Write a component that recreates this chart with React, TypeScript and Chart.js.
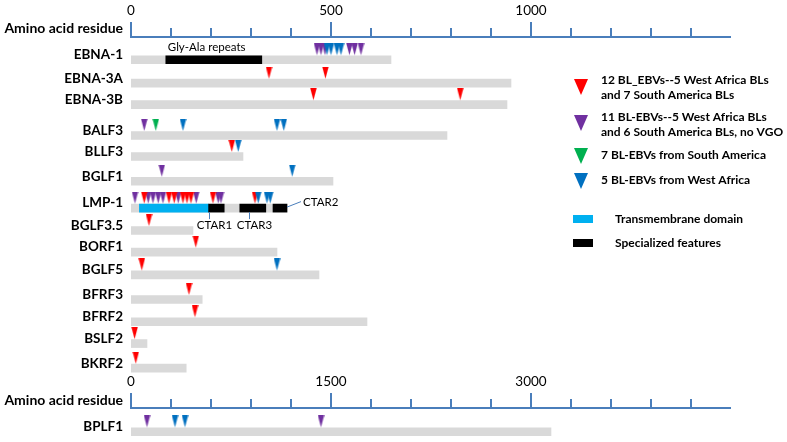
import React, { useEffect, useRef } from 'react';
import { Chart, registerables } from 'chart.js';

Chart.register(...registerables);

// ---------------- data ----------------
const genes = ['EBNA-1', 'EBNA-3A', 'EBNA-3B', 'BALF3', 'BLLF3', 'BGLF1', 'LMP-1', 'BGLF3.5', 'BORF1', 'BGLF5', 'BFRF3', 'BFRF2', 'BSLF2', 'BKRF2'];
const geneLengths = [650, 950, 940, 790, 280, 505, 390, 155, 365, 470, 178, 590, 40, 138];

const longGenes = ['BPLF1'];
const longGeneLengths = [3150];

const featureGenes = ['EBNA-1', 'LMP-1', 'LMP-1', 'LMP-1'];
const featureNames = ['Gly-Ala repeats', 'CTAR1', 'CTAR3', 'CTAR2'];
const featureStarts = [87, 194, 272, 355];
const featureEnds = [327, 233, 337, 390];

const tmGenes = ['LMP-1'];
const tmStarts = [21];
const tmEnds = [194];

const redSites: [string, number][] = [
  ['EBNA-3A', 345], ['EBNA-3A', 486],
  ['EBNA-3B', 456], ['EBNA-3B', 823],
  ['BLLF3', 252],
  ['LMP-1', 33], ['LMP-1', 95], ['LMP-1', 108], ['LMP-1', 130], ['LMP-1', 140], ['LMP-1', 150], ['LMP-1', 205], ['LMP-1', 310],
  ['BGLF3.5', 45], ['BORF1', 162], ['BGLF5', 27], ['BFRF3', 145], ['BFRF2', 160], ['BSLF2', 9], ['BKRF2', 12],
];
const purpleSites: [string, number][] = [
  ['EBNA-1', 465], ['EBNA-1', 475], ['EBNA-1', 485], ['EBNA-1', 546], ['EBNA-1', 559], ['EBNA-1', 575],
  ['BALF3', 33], ['BGLF1', 77],
  ['LMP-1', 10], ['LMP-1', 43], ['LMP-1', 55], ['LMP-1', 68], ['LMP-1', 80], ['LMP-1', 118], ['LMP-1', 163], ['LMP-1', 218], ['LMP-1', 225],
];
const greenSites: [string, number][] = [['BALF3', 62]];
const blueSites: [string, number][] = [
  ['EBNA-1', 490], ['EBNA-1', 500], ['EBNA-1', 515], ['EBNA-1', 525],
  ['BALF3', 130], ['BALF3', 365], ['BALF3', 382],
  ['BLLF3', 268], ['BGLF1', 403],
  ['LMP-1', 318], ['LMP-1', 340], ['LMP-1', 348],
  ['BGLF5', 365],
];
const longPurpleSites: [string, number][] = [['BPLF1', 120], ['BPLF1', 1425]];
const longBlueSites: [string, number][] = [['BPLF1', 330], ['BPLF1', 405]];

const topTicks = [0, 100, 200, 300, 400, 500, 600, 700, 800, 900, 1000, 1100, 1200, 1300, 1400];
const topTickLabels = [0, 500, 1000];
const topMax = 1500;
const bottomTicks = [0, 300, 600, 900, 1200, 1500, 1800, 2100, 2400, 2700, 3000, 3300, 3600, 3900, 4200];
const bottomTickLabels = [0, 1500, 3000];
const bottomMax = 4500;
const axisTitle = 'Amino acid residue';

const legendMarkers = [
  ['12 BL_EBVs--5 West Africa BLs', 'and 7 South America BLs'],
  ['11 BL-EBVs--5 West Africa BLs', 'and 6 South America BLs, no VGO'],
  ['7 BL-EBVs from South America'],
  ['5 BL-EBVs from West Africa'],
];
const legendBars = ['Transmembrane domain', 'Specialized features'];

// ---------------- layout / style ----------------
const ROW_POS: Record<string, number> = {
  'EBNA-1': 0, 'EBNA-3A': 1.0, 'EBNA-3B': 1.917, 'BALF3': 3.23, 'BLLF3': 4.125, 'BGLF1': 5.18,
  'LMP-1': 6.325, 'BGLF3.5': 7.28, 'BORF1': 8.2, 'BGLF5': 9.175, 'BFRF3': 10.22, 'BFRF2': 11.17,
  'BSLF2': 12.1, 'BKRF2': 13.15, 'BPLF1': 15.86,
};
const TOP_AXIS_ROW = -0.99;
const BOTTOM_AXIS_ROW = 14.85;
const TOP_TITLE_ROW = -1.1;
const BOTTOM_TITLE_ROW = 14.75;
const Y_MIN = -2.3333;
const Y_MAX = 16.0833;

const RED = '#ff0000';
const PURPLE = '#7030a0';
const GREEN = '#00b050';
const BLUE = '#0070c0';
const CYAN = '#00b0f0';
const GRAY = '#d9d9d9';
const AXIS = '#4a7ebb';
const FONT = 'Lato';

function markerCanvas(color: string) {
  const w = 7, triH = 12, gap = 4.5;
  const h = Math.ceil(2 * (triH + gap));
  const c = document.createElement('canvas');
  c.width = w; c.height = h;
  const ctx = c.getContext('2d')!;
  const tip = h / 2 - gap;
  ctx.beginPath();
  ctx.moveTo(0.3, tip - triH);
  ctx.lineTo(w - 0.3, tip - triH);
  ctx.lineTo(w / 2, tip);
  ctx.closePath();
  ctx.fillStyle = color;
  ctx.fill();
  return c;
}

function drawAxis(ctx: CanvasRenderingContext2D, scale: any, yPix: number, ticks: number[], labels: number[], max: number) {
  const yy = Math.round(yPix);
  ctx.save();
  ctx.strokeStyle = AXIS;
  ctx.lineWidth = 2;
  ctx.beginPath();
  ctx.moveTo(scale.getPixelForValue(0) - 1, yy);
  ctx.lineTo(scale.getPixelForValue(max), yy);
  ctx.stroke();
  ctx.beginPath();
  ticks.forEach((t) => {
    const px = Math.round(scale.getPixelForValue(t));
    const len = labels.includes(t) ? 15 : 9;
    ctx.moveTo(px, yy);
    ctx.lineTo(px, yy - len);
  });
  ctx.stroke();
  ctx.fillStyle = '#000';
  ctx.font = `13.5px ${FONT}`;
  ctx.textAlign = 'center';
  ctx.textBaseline = 'middle';
  labels.forEach((v) => {
    ctx.fillText(String(v), scale.getPixelForValue(v), yy - 26);
  });
  ctx.restore();
}

function tri(ctx: CanvasRenderingContext2D, cx: number, top: number, w: number, h: number, color: string) {
  ctx.beginPath();
  ctx.moveTo(cx - w / 2, top);
  ctx.lineTo(cx + w / 2, top);
  ctx.lineTo(cx, top + h);
  ctx.closePath();
  ctx.fillStyle = color;
  ctx.fill();
}

const drawPlugin = {
  id: 'geneDecor',
  afterDraw(chart: any) {
    const { ctx } = chart;
    const xs = chart.scales.x, x2 = chart.scales.x2, ys = chart.scales.y;
    drawAxis(ctx, xs, ys.getPixelForValue(TOP_AXIS_ROW), topTicks, topTickLabels, topMax);
    drawAxis(ctx, x2, ys.getPixelForValue(BOTTOM_AXIS_ROW), bottomTicks, bottomTickLabels, bottomMax);

    ctx.save();
    ctx.font = `11.5px ${FONT}`;
    ctx.fillStyle = '#000';
    ctx.textBaseline = 'middle';
    featureNames.forEach((name, i) => {
      const rowY = ys.getPixelForValue(ROW_POS[featureGenes[i]]);
      const sx = xs.getPixelForValue(featureStarts[i]);
      const ex = xs.getPixelForValue(featureEnds[i]);
      ctx.strokeStyle = AXIS;
      ctx.lineWidth = 1;
      if (name === 'Gly-Ala repeats') {
        ctx.textAlign = 'left';
        ctx.fillText(name, sx + 2, rowY - 12);
      } else if (name === 'CTAR2') {
        ctx.beginPath();
        ctx.moveTo(ex, rowY - 1);
        ctx.lineTo(ex + 14, rowY - 6.5);
        ctx.stroke();
        ctx.textAlign = 'left';
        ctx.fillText(name, ex + 16, rowY - 6);
      } else {
        const ax = name === 'CTAR1' ? Math.round(sx) + 0.5 : Math.round(sx + 9) + 0.5;
        ctx.beginPath();
        ctx.moveTo(ax, rowY + 4);
        ctx.lineTo(ax, rowY + 11);
        ctx.stroke();
        ctx.textAlign = 'center';
        ctx.fillText(name, ax + 5, rowY + 17.5);
      }
    });

    // legend
    const lx = 581, tx = 601;
    const markerColors = [RED, PURPLE, GREEN, BLUE];
    const markerTops = [79, 115, 148, 173];
    const textYs = [[80.5, 95.5], [117.5, 132.5], [155.5], [180.5]];
    ctx.font = `bold 12px ${FONT}`;
    ctx.textAlign = 'left';
    legendMarkers.forEach((lines, i) => {
      tri(ctx, lx, markerTops[i], 14, 16, markerColors[i]);
      ctx.fillStyle = '#000';
      lines.forEach((ln, j) => ctx.fillText(ln, tx, textYs[i][j]));
    });
    const barColors = [CYAN, '#000'];
    const barYs = [219, 243];
    legendBars.forEach((lab, i) => {
      ctx.fillStyle = barColors[i];
      ctx.fillRect(573, barYs[i] - 4, 20, 8);
      ctx.fillStyle = '#000';
      ctx.fillText(lab, 615, barYs[i] + 0.5);
    });
    ctx.restore();
  },
};

function sitesTo(sites: [string, number][]) {
  return sites.map(([g, aa]) => ({ x: aa, y: ROW_POS[g] }));
}

export default function App() {
  const ref = useRef<HTMLCanvasElement>(null);
  useEffect(() => {
    const yTickVals = [TOP_TITLE_ROW, ...genes.map((g) => ROW_POS[g]), BOTTOM_TITLE_ROW, ...longGenes.map((g) => ROW_POS[g])];
    const yLabels = [axisTitle, ...genes, axisTitle, ...longGenes];
    const barBase = { type: 'bar' as const, indexAxis: 'y' as const, grouped: false, barThickness: 8, borderWidth: 0, yAxisID: 'y' };
    const scatterBase = { type: 'scatter' as const, showLine: false, pointRadius: 4, yAxisID: 'y' };
    const mk = (c: string) => markerCanvas(c);
    const chart = new Chart(ref.current!, {
      type: 'bar',
      data: {
        datasets: [
          { ...barBase, label: 'genes', xAxisID: 'x', order: 10, backgroundColor: GRAY,
            data: genes.map((g, i) => ({ y: ROW_POS[g], x: [0, geneLengths[i]] })) as any },
          { ...barBase, label: 'long genes', xAxisID: 'x2', order: 10, backgroundColor: GRAY,
            data: longGenes.map((g, i) => ({ y: ROW_POS[g], x: [0, longGeneLengths[i]] })) as any },
          { ...barBase, label: 'TM', xAxisID: 'x', order: 9, backgroundColor: CYAN,
            data: tmGenes.map((g, i) => ({ y: ROW_POS[g], x: [tmStarts[i], tmEnds[i]] })) as any },
          { ...barBase, label: 'features', xAxisID: 'x', order: 8, backgroundColor: '#000',
            data: featureGenes.map((g, i) => ({ y: ROW_POS[g], x: [featureStarts[i], featureEnds[i]] })) as any },
          { ...scatterBase, label: 'purple', xAxisID: 'x', order: 4, pointStyle: mk(PURPLE), data: sitesTo(purpleSites) as any },
          { ...scatterBase, label: 'purple2', xAxisID: 'x2', order: 4, pointStyle: mk(PURPLE), data: sitesTo(longPurpleSites) as any },
          { ...scatterBase, label: 'green', xAxisID: 'x', order: 3, pointStyle: mk(GREEN), data: sitesTo(greenSites) as any },
          { ...scatterBase, label: 'red', xAxisID: 'x', order: 2, pointStyle: mk(RED), data: sitesTo(redSites) as any },
          { ...scatterBase, label: 'blue', xAxisID: 'x', order: 1, pointStyle: mk(BLUE), data: sitesTo(blueSites) as any },
          { ...scatterBase, label: 'blue2', xAxisID: 'x2', order: 1, pointStyle: mk(BLUE), data: sitesTo(longBlueSites) as any },
        ] as any,
      },
      options: {
        responsive: false,
        animation: false,
        devicePixelRatio: 1,
        layout: { padding: { left: 0, right: 56, top: 0, bottom: 0 } },
        plugins: { legend: { display: false }, tooltip: { enabled: false } },
        events: [],
        scales: {
          x: { type: 'linear', display: false, offset: false, grid: { offset: false }, min: 0, max: topMax },
          x2: { type: 'linear', display: false, offset: false, grid: { offset: false }, min: 0, max: bottomMax },
          y: {
            type: 'linear',
            reverse: true,
            offset: false,
            min: Y_MIN,
            max: Y_MAX,
            grid: { display: false, drawTicks: false, offset: false },
            border: { display: false },
            ticks: {
              autoSkip: false,
              padding: 8,
              labelOffset: -5,
              color: '#000',
              font: (c: any) => ({ family: FONT, weight: 'bold', size: yLabels[c.index] === axisTitle ? 14 : 13.5 }),
              callback: (_v: any, i: number) => yLabels[i],
            },
            afterBuildTicks: (s: any) => { s.ticks = yTickVals.map((v) => ({ value: v })); },
            afterFit: (s: any) => { s.width = 131; s.paddingTop = 0; s.paddingBottom = 0; },
          },
        },
      } as any,
      plugins: [drawPlugin],
    });
    return () => chart.destroy();
  }, []);
  return (
    <div style={{ position: 'fixed', left: 0, top: 0, width: 787, height: 442, background: '#fff' }}>
      <canvas ref={ref} width={787} height={442} />
    </div>
  );
}
